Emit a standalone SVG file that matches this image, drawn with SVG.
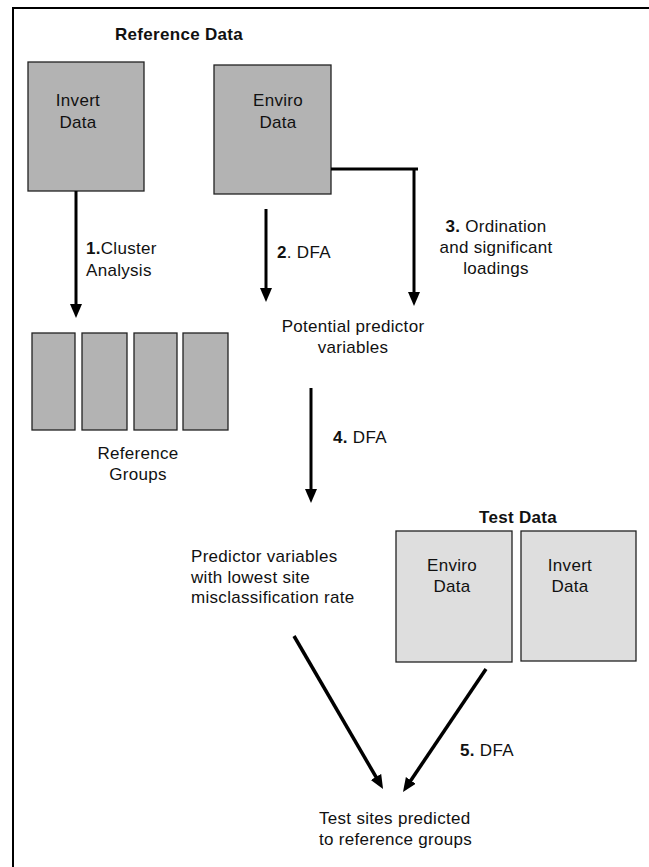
<svg xmlns="http://www.w3.org/2000/svg" width="649" height="867" viewBox="0 0 649 867">
<style>
text{font-family:"Liberation Sans",Arial,sans-serif;font-size:17px;letter-spacing:0.3px;fill:#111}
.b{font-weight:bold}
.c{text-anchor:middle}
.ref{fill:#b3b3b3;stroke:#222;stroke-width:1.3}
.test{fill:#dedede;stroke:#222;stroke-width:1.3}
.ln{fill:none;stroke:#000;stroke-width:3}
.dg{fill:none;stroke:#000;stroke-width:3.5}
</style>
<defs>
<marker id="ah" markerUnits="userSpaceOnUse" markerWidth="16" markerHeight="14" refX="4" refY="6" orient="auto">
<path d="M0,0 L14,6 L0,12 z" fill="#000"/>
</marker>
</defs>
<rect width="649" height="867" fill="#fff"/>
<path d="M13,867 V8 H649" fill="none" stroke="#000" stroke-width="2"/>

<text id="title-ref" class="b c" x="179" y="40">Reference Data</text>

<g id="ref-invert">
<rect class="ref" x="28" y="62" width="116" height="129"/>
<text class="c" x="78" y="106">Invert</text>
<text class="c" x="78" y="128">Data</text>
</g>
<g id="ref-enviro">
<rect class="ref" x="214" y="65" width="117" height="129"/>
<text class="c" x="278" y="106">Enviro</text>
<text class="c" x="278" y="128">Data</text>
</g>

<g id="ref-groups">
<rect class="ref" x="32" y="333" width="43" height="97"/>
<rect class="ref" x="82" y="333" width="45" height="97"/>
<rect class="ref" x="134" y="333" width="43" height="97"/>
<rect class="ref" x="183" y="333" width="45" height="97"/>
<text class="c" x="138" y="459">Reference</text>
<text class="c" x="138" y="480">Groups</text>
</g>

<g id="potential">
<text class="c" x="353" y="332">Potential predictor</text>
<text class="c" x="353" y="353">variables</text>
</g>

<g id="predictors">
<text x="191" y="562">Predictor variables</text>
<text x="191" y="583">with lowest site</text>
<text x="191" y="603">misclassification rate</text>
</g>

<text id="title-test" class="b c" x="518" y="523">Test Data</text>
<g id="test-enviro">
<rect class="test" x="396" y="531" width="116" height="131"/>
<text class="c" x="452" y="571">Enviro</text>
<text class="c" x="452" y="592">Data</text>
</g>
<g id="test-invert">
<rect class="test" x="521" y="531" width="115" height="130"/>
<text class="c" x="570" y="571">Invert</text>
<text class="c" x="570" y="592">Data</text>
</g>

<g id="result">
<text x="319" y="824">Test sites predicted</text>
<text x="319" y="845">to reference groups</text>
</g>

<g id="connectors">
<path class="ln" d="M76,191 V308" marker-end="url(#ah)"/>
<path class="ln" d="M266,209 V292" marker-end="url(#ah)"/>
<path class="ln" d="M331,169 H418"/>
<path class="ln" d="M414,169 V296" marker-end="url(#ah)"/>
<path class="ln" d="M311,388 V493" marker-end="url(#ah)"/>
<path class="dg" d="M294,636 L378,780.4" marker-end="url(#ah)"/>
<path class="dg" d="M486,669 L408.6,783.7" marker-end="url(#ah)"/>
<text x="86" y="254"><tspan class="b">1.</tspan>Cluster</text>
<text x="86" y="276">Analysis</text>
<text x="277" y="258"><tspan class="b">2</tspan>. DFA</text>
<text class="c" x="496" y="232"><tspan class="b">3.</tspan> Ordination</text>
<text class="c" x="496" y="253">and significant</text>
<text class="c" x="496" y="274">loadings</text>
<text x="333" y="443"><tspan class="b">4.</tspan> DFA</text>
<text x="460" y="756"><tspan class="b">5.</tspan> DFA</text>
</g>
</svg>
